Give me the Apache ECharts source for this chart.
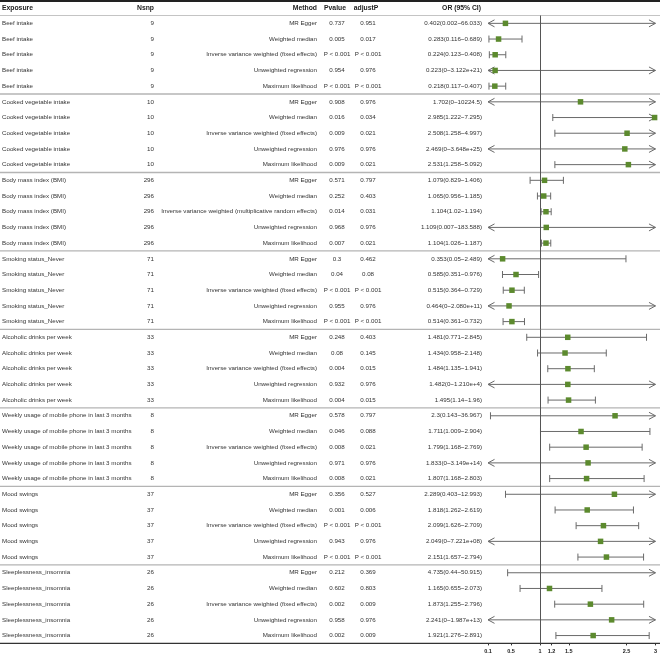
<!DOCTYPE html>
<html><head><meta charset="utf-8">
<script src="https://cdn.jsdelivr.net/npm/echarts@6/dist/echarts.min.js"></script>
<style>html,body{margin:0;padding:0;background:#fff}#c{width:660px;height:657px}</style>
</head><body><div id="c"></div>
<script>
const exposures = ["Beef intake","Cooked vegetable intake","Body mass index (BMI)","Smoking status_Never","Alcoholic drinks per week","Weekly usage of mobile phone in last 3 months","Mood swings","Sleeplessness_insomnia"];
const nsnp = [9,10,296,71,33,8,37,26];
const methods = ["MR Egger","Weighted median","Inverse variance weighted (fixed effects)","Unweighted regression","Maximum likelihood"];
const bmiIvwMethod = "Inverse variance weighted (multiplicative random effects)";
const pvalue = [
 "0.737","0.005","P < 0.001","0.954","P < 0.001",
 "0.908","0.016","0.009","0.976","0.009",
 "0.571","0.252","0.014","0.968","0.007",
 "0.3","0.04","P < 0.001","0.955","P < 0.001",
 "0.248","0.08","0.004","0.932","0.004",
 "0.578","0.046","0.008","0.971","0.008",
 "0.356","0.001","P < 0.001","0.943","P < 0.001",
 "0.212","0.602","0.002","0.958","0.002"];
const adjustP = [
 "0.951","0.017","P < 0.001","0.976","P < 0.001",
 "0.976","0.034","0.021","0.976","0.021",
 "0.797","0.403","0.031","0.976","0.021",
 "0.462","0.08","P < 0.001","0.976","P < 0.001",
 "0.403","0.145","0.015","0.976","0.015",
 "0.797","0.088","0.021","0.976","0.021",
 "0.527","0.006","P < 0.001","0.976","P < 0.001",
 "0.369","0.803","0.009","0.976","0.009"];
const orEst = [
 "0.402","0.283","0.224","0.223","0.218",
 "1.702","2.985","2.508","2.469","2.531",
 "1.079","1.065","1.104","1.109","1.104",
 "0.353","0.585","0.515","0.464","0.514",
 "1.481","1.434","1.484","1.482","1.495",
 "2.3","1.711","1.799","1.833","1.807",
 "2.289","1.818","2.099","2.049","2.151",
 "4.735","1.165","1.873","2.241","1.921"];
const ciLow = [
 "0.002","0.116","0.123","0","0.117",
 "0","1.222","1.258","0","1.258",
 "0.829","0.956","1.02","0.007","1.026",
 "0.05","0.351","0.364","0","0.361",
 "0.771","0.958","1.135","0","1.14",
 "0.143","1.009","1.168","0","1.168",
 "0.403","1.262","1.626","0","1.657",
 "0.44","0.655","1.255","0","1.276"];
const ciHigh = [
 "66.033","0.689","0.408","3.122e+21","0.407",
 "10224.5","7.295","4.997","3.648e+25","5.092",
 "1.406","1.185","1.194","183.588","1.187",
 "2.489","0.976","0.729","2.080e+11","0.732",
 "2.845","2.148","1.941","1.210e+4","1.96",
 "36.967","2.904","2.769","3.149e+14","2.803",
 "12.993","2.619","2.709","7.221e+08","2.794",
 "50.915","2.073","2.796","1.987e+13","2.891"];
const xTicks = [0.1,0.5,1,1.2,1.5,2.5,3];
const xMin = 0.1, xMax = 3;

const rows = [];
exposures.forEach((ex, g) => {
  methods.forEach((m, k) => {
    const i = g * 5 + k;
    rows.push({
      exposure: ex, nsnp: String(nsnp[g]),
      method: (g === 2 && k === 2) ? bmiIvwMethod : m,
      p: pvalue[i], adj: adjustP[i],
      label: orEst[i] + '(' + ciLow[i] + '~' + ciHigh[i] + ')'
    });
  });
});

const FONT = '"Liberation Sans", Arial, sans-serif';
const TXT = '#333';
const LINE = '#6a6a6a';

const chart = echarts.init(document.getElementById('c'), null, {renderer: 'canvas'});

function txt(t, x, y, align, bold, size) {
  return {type: 'text', style: {text: t, x: x, y: y, align: align, verticalAlign: 'middle',
    fontFamily: FONT, fontSize: size || 6.2, fontWeight: bold ? 'bold' : 'normal', fill: bold ? '#222' : TXT}};
}

const option = {
  animation: false,
  backgroundColor: '#fff',
  grid: {left: 488, right: 4, top: 15.5, bottom: 13.6, containLabel: false},
  xAxis: {
    type: 'value', min: xMin, max: xMax,
    splitLine: {show: false},
    axisLine: {show: true, lineStyle: {color: '#333', width: 1}},
    axisTick: {show: true, length: 2, customValues: xTicks, lineStyle: {color: '#333'}},
    axisLabel: {customValues: xTicks, fontFamily: FONT, fontSize: 5.5, fontWeight: 'bold', color: '#222', margin: 5,
      formatter: v => String(v)}
  },
  yAxis: {
    type: 'category', inverse: true, show: false,
    data: rows.map((r, i) => String(i))
  },
  graphic: [
    {type: 'line', shape: {x1: 0, y1: 1, x2: 660, y2: 1}, style: {stroke: '#222', lineWidth: 2}},
    {type: 'line', shape: {x1: 0, y1: 15.5, x2: 660, y2: 15.5}, style: {stroke: '#c4c4c4', lineWidth: 1}},
    {type: 'line', shape: {x1: 0, y1: 643.4, x2: 660, y2: 643.4}, style: {stroke: '#333', lineWidth: 1.4}},
    txt('Exposure', 2, 8.5, 'left', true, 6.8),
    txt('Nsnp', 154, 8.5, 'right', true, 6.8),
    txt('Method', 317, 8.5, 'right', true, 6.8),
    txt('Pvalue', 335, 8.5, 'center', true, 6.8),
    txt('adjustP', 366, 8.5, 'center', true, 6.8),
    txt('OR (95% CI)', 481, 8.5, 'right', true, 6.8)
  ],
  series: [
    {
      type: 'custom', z: 1, silent: true, clip: false,
      data: rows.map((r, i) => [1, i]),
      encode: {x: 0, y: 1},
      renderItem: function (params, api) {
        const i = api.value(1);
        const y = api.coord([1, i])[1];
        const band = api.size([0, 1])[1];
        const r = rows[i];
        const ch = [
          txt(r.exposure, 2, y, 'left'),
          txt(r.nsnp, 154, y, 'right'),
          txt(r.method, 317, y, 'right'),
          txt(r.p, 337, y, 'center'),
          txt(r.adj, 368, y, 'center'),
          txt(r.label, 482, y, 'right')
        ];
        if (i % 5 === 4 && i < rows.length - 1) {
          ch.push({type: 'line', shape: {x1: 0, y1: y + band / 2, x2: api.getWidth(), y2: y + band / 2},
            style: {stroke: '#b4b4b4', lineWidth: 1.3}});
        }
        return {type: 'group', children: ch};
      }
    },
    {
      type: 'custom', z: 3, silent: true, clip: false,
      data: rows.map((r, i) => [Number(orEst[i]), i, Number(ciLow[i]), Number(ciHigh[i])]),
      encode: {x: 0, y: 1},
      renderItem: function (params, api) {
        const i = api.value(1);
        const lo = api.value(2), hi = api.value(3);
        const y = api.coord([xMin, i])[1];
        const xl = api.coord([Math.max(lo, xMin), i])[0];
        const xr = api.coord([Math.min(hi, xMax), i])[0];
        const st = {stroke: LINE, lineWidth: 1, fill: null};
        const ch = [{type: 'line', shape: {x1: xl, y1: y, x2: xr, y2: y}, style: st}];
        if (lo < xMin) {
          ch.push({type: 'polyline', shape: {points: [[xl + 6.5, y - 3.5], [xl, y], [xl + 6.5, y + 3.5]]}, style: st});
        } else {
          ch.push({type: 'line', shape: {x1: xl, y1: y - 3.5, x2: xl, y2: y + 3.5}, style: st});
        }
        if (hi > xMax) {
          ch.push({type: 'polyline', shape: {points: [[xr - 6.5, y - 3.5], [xr, y], [xr - 6.5, y + 3.5]]}, style: st});
        } else {
          ch.push({type: 'line', shape: {x1: xr, y1: y - 3.5, x2: xr, y2: y + 3.5}, style: st});
        }
        return {type: 'group', children: ch};
      }
    },
    {
      type: 'scatter', z: 4, silent: true, clip: true,
      symbol: 'rect', symbolSize: 5.5,
      itemStyle: {color: '#5c8a2e', opacity: 1},
      data: rows.map((r, i) => [Number(orEst[i]), i]),
      markLine: {
        silent: true, symbol: 'none', animation: false,
        label: {show: false},
        lineStyle: {color: '#555', width: 1, type: 'solid'},
        data: [{xAxis: 1}]
      }
    }
  ]
};
chart.setOption(option);
</script>
</body></html>
